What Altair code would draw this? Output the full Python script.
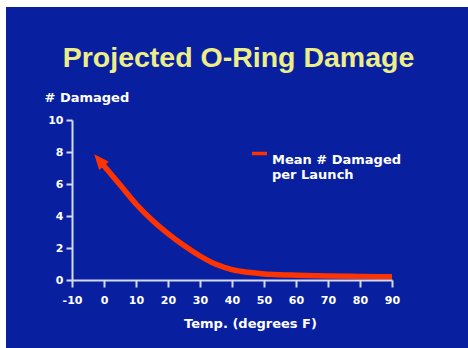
import altair as alt
import pandas as pd

# ---- data ----
temps = [-0.5, 5, 10, 15, 20, 25, 30, 35, 40, 45, 50, 55, 60, 70, 80, 90]
damage = [7.25, 5.95, 4.75, 3.75, 2.9, 2.15, 1.5, 0.98, 0.65, 0.48, 0.38, 0.33, 0.3, 0.25, 0.22, 0.2]
x_ticks = [-10, 0, 10, 20, 30, 40, 50, 60, 70, 80, 90]
y_ticks = [0, 2, 4, 6, 8, 10]
series_name = "Mean # Damaged per Launch"
legend_lines = ["Mean # Damaged", "per Launch"]
title_text = "Projected O-Ring Damage"
x_title = "Temp. (degrees F)"
y_title = "# Damaged"

BLUE = "#0820A0"
RED = "#FF3300"
YELLOW = "#EEEE88"
AXIS = "#D4DAF2"
WHITE = "#FFFFFF"
FONT = "DejaVu Sans"

df = pd.DataFrame({"temp": temps, "damaged": damage, "series": series_name})
df["order"] = range(len(df))

xscale = alt.Scale(domain=[-10, 90], nice=False, zero=False)
yscale = alt.Scale(domain=[0, 10], nice=False)

bg = alt.Chart(pd.DataFrame({"k": [0]})).mark_rect(color=BLUE).encode(
    x=alt.value(-66), x2=alt.value(396), y=alt.value(-113), y2=alt.value(230)
)

legend_expr = "[" + ", ".join("'" + s + "'" for s in legend_lines) + "]"

line = alt.Chart(df).mark_line(
    strokeWidth=5.5, interpolate="monotone", strokeCap="butt"
).encode(
    x=alt.X(
        "temp:Q",
        scale=xscale,
        axis=alt.Axis(
            values=x_ticks, tickCount=len(x_ticks), labelExpr="'' + datum.value",
            grid=False, labelFlush=False, labelOverlap=False, zindex=1,
            domainColor=AXIS, domainWidth=2, tickColor=AXIS, tickWidth=2,
            tickSize=7, labelPadding=7, labelColor=WHITE, labelFont=FONT,
            labelFontWeight="bold", labelFontSize=11,
            title=x_title, titleColor=WHITE, titleFont=FONT, titleFontSize=13,
            titleFontWeight="bold", titleX=178, titleY=47,
            titleBaseline="alphabetic", titleAlign="center",
        ),
    ),
    y=alt.Y(
        "damaged:Q",
        scale=yscale,
        axis=alt.Axis(
            values=y_ticks, tickCount=len(y_ticks), labelExpr="'' + datum.value",
            grid=False, labelOverlap=False, zindex=1,
            domainColor=AXIS, domainWidth=2, tickColor=AXIS, tickWidth=2,
            tickSize=6, labelPadding=3, labelColor=WHITE, labelFont=FONT,
            labelFontWeight="bold", labelFontSize=11,
            title=y_title, titleColor=WHITE, titleFont=FONT, titleFontSize=13,
            titleFontWeight="bold", titleAngle=0, titleX=-28, titleY=-19,
            titleAlign="left", titleBaseline="alphabetic",
        ),
    ),
    order="order:Q",
    color=alt.Color(
        "series:N",
        scale=alt.Scale(range=[RED]),
        legend=alt.Legend(
            orient="none", legendX=178, legendY=24, title=None,
            symbolType="stroke", symbolSize=225, symbolStrokeWidth=3.5,
            labelFont=FONT, labelFontWeight="bold", labelFontSize=13,
            labelColor=WHITE, labelBaseline="top", labelExpr=legend_expr,
            labelOffset=3, padding=0, labelLimit=0,
        ),
    ),
)

arrow = alt.Chart(df).transform_filter(alt.datum.order == 0).mark_point(
    shape="M0,-2L1,0.4L-1,0.4Z", filled=True, opacity=1, color=RED,
    size=160, angle=320, strokeWidth=0,
).encode(
    x=alt.X("temp:Q", scale=xscale),
    y=alt.Y("damaged:Q", scale=yscale),
)

chart = alt.layer(bg, line, arrow).properties(
    width=320,
    height=160,
    background=WHITE,
    padding={"left": 72, "top": 120, "right": 76, "bottom": 68},
    autosize=alt.AutoSizeParams(type="none"),
    title=alt.TitleParams(
        title_text, font="Liberation Sans", fontSize=28.5, fontWeight="bold",
        color=YELLOW, anchor="middle", frame="group", dx=6.5,
        baseline="alphabetic", offset=-88,
    ),
).configure_view(stroke=None)

chart.save("out.html", embed_options={"renderer": "svg", "actions": False})
